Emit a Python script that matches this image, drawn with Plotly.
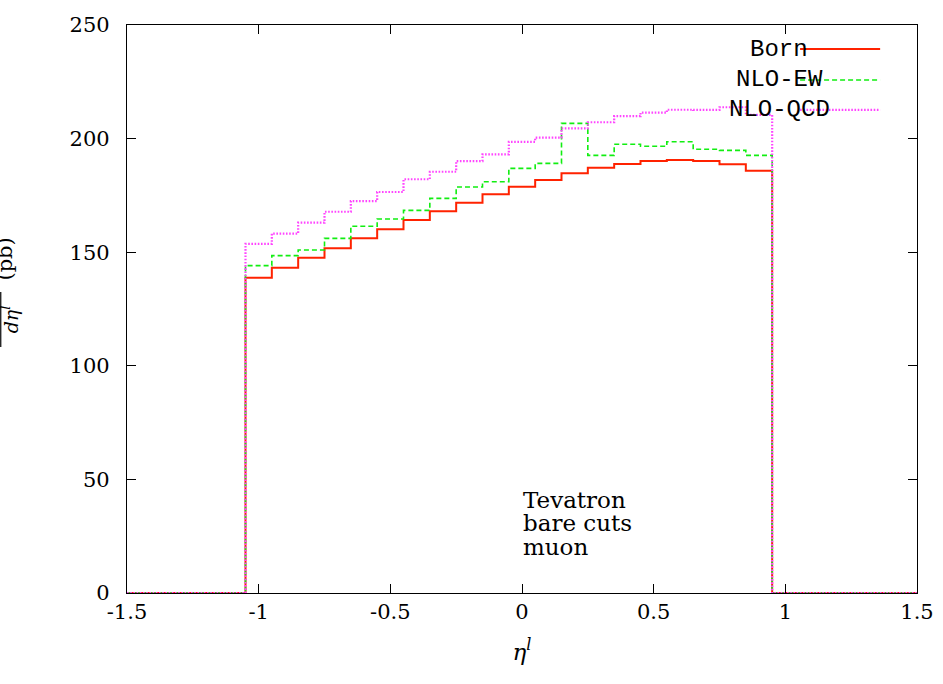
import plotly.graph_objects as go

# bin edges (eta^l), 20 bins of width 0.1 from -1.05 to 0.95
edges = [-1.05, -0.95, -0.85, -0.75, -0.65, -0.55, -0.45, -0.35, -0.25, -0.15,
         -0.05, 0.05, 0.15, 0.25, 0.35, 0.45, 0.55, 0.65, 0.75, 0.85, 0.95]

born = [138.8, 143.2, 147.6, 151.7, 156.1, 160.1, 164.2, 168.0, 171.8, 175.5,
        178.8, 181.8, 184.7, 187.2, 188.8, 190.1, 190.6, 190.1, 188.7, 185.9]
nlo_ew = [144.1, 148.5, 151.0, 156.1, 161.4, 164.6, 168.4, 173.7, 178.7, 181.0,
          186.9, 189.1, 206.7, 192.6, 197.5, 196.6, 198.6, 195.3, 194.8, 192.6]
nlo_qcd = [153.7, 158.2, 163.0, 167.8, 172.5, 176.5, 182.1, 185.4, 190.1, 193.1,
           198.6, 200.4, 204.5, 207.2, 209.9, 211.4, 212.7, 212.6, 213.8, 210.4]

series_names = ["Born", "NLO-EW", "NLO-QCD"]
x_min, x_max = -1.5, 1.5
x_ticks = [-1.5, -1, -0.5, 0, 0.5, 1, 1.5]
x_ticklabels = ["-1.5", "-1", "-0.5", "0", "0.5", "1", "1.5"]
y_ticks = [0, 50, 100, 150, 200, 250]
info_lines = ["Tevatron", "bare cuts", "muon"]

styles = [
    dict(color="#ff2200", width=2, dash="solid"),
    dict(color="#11ee11", width=1.6, dash="5px,3px"),
    dict(color="#ff44ff", width=2.2, dash="1.6px,1.6px"),
]


def step_xy(vals):
    xs = [x_min] + edges[:-1] + [edges[-1], x_max]
    ys = [0] + list(vals) + [0, 0]
    return xs, ys


fig = go.Figure()
for name, vals, st in zip(series_names, [born, nlo_ew, nlo_qcd], styles):
    xs, ys = step_xy(vals)
    fig.add_trace(go.Scatter(x=xs, y=ys, mode="lines", line_shape="hv",
                             line=st, name=name, showlegend=False))

serif = "DejaVu Serif"
mono = "Courier New"

# gnuplot-style key (text centred, sample line to the right)
key_y = [239.4, 225.8, 212.6]
for name, st, ky in zip(series_names, styles, key_y):
    fig.add_annotation(x=0.976, y=ky, xref="x", yref="y", text=name,
                       showarrow=False, xanchor="center", yanchor="middle",
                       font=dict(family=mono, size=24, color="black"))
    fig.add_shape(type="line", xref="x", yref="y", x0=1.056, x1=1.36,
                  y0=ky, y1=ky, line=st)

# info text
for txt, yy in zip(info_lines, [40.9, 30.8, 20.4]):
    fig.add_annotation(x=-0.005, y=yy, xref="x", yref="y", text=txt,
                       showarrow=False, xanchor="left", yanchor="middle",
                       font=dict(family=serif, size=23, color="black"))

# y-axis label (partly outside the page, as in the reference)
fig.add_annotation(x=-0.155, y=0.588, xref="paper", yref="paper", text="(pb)",
                   textangle=-90, showarrow=False, xanchor="center", yanchor="middle",
                   font=dict(family=serif, size=21, color="black"))
fig.add_annotation(x=-0.148, y=0.482, xref="paper", yref="paper",
                   text="<i>dη</i><sup><i>l</i></sup>",
                   textangle=-90, showarrow=False, xanchor="center", yanchor="middle",
                   font=dict(family=serif, size=19, color="black"))
fig.add_annotation(x=-0.186, y=0.482, xref="paper", yref="paper",
                   text="<i>dσ</i>",
                   textangle=-90, showarrow=False, xanchor="center", yanchor="middle",
                   font=dict(family=serif, size=19, color="black"))
fig.add_shape(type="line", xref="paper", yref="paper", x0=-0.1598, x1=-0.1598,
              y0=0.433, y1=0.530, line=dict(color="black", width=1.2))

fig.update_layout(
    width=943, height=684,
    margin=dict(l=127, r=26, t=25, b=91, autoexpand=False),
    paper_bgcolor="white", plot_bgcolor="white",
    font=dict(family=serif),
    xaxis=dict(range=[x_min, x_max], tickvals=x_ticks, ticktext=x_ticklabels,
               automargin=False,
               showgrid=False, zeroline=False, showline=True, linecolor="black",
               linewidth=1.3, mirror="ticks", ticks="inside", ticklen=9,
               tickcolor="black", tickwidth=1.3,
               tickfont=dict(family=serif, size=21, color="black"),
               title=dict(text="<i>η</i><sup><i>l</i></sup>",
                          font=dict(family=serif, size=23, color="black"),
                          standoff=20)),
    yaxis=dict(range=[0, 250], tickvals=y_ticks, showgrid=False, zeroline=False,
               automargin=False,
               showline=True, linecolor="black", linewidth=1.3, mirror="ticks",
               ticks="inside", ticklen=9, tickcolor="black", tickwidth=1.3,
               ticklabelstandoff=12,
               tickfont=dict(family=serif, size=21, color="black")),
)

fig.write_html("out.html")
